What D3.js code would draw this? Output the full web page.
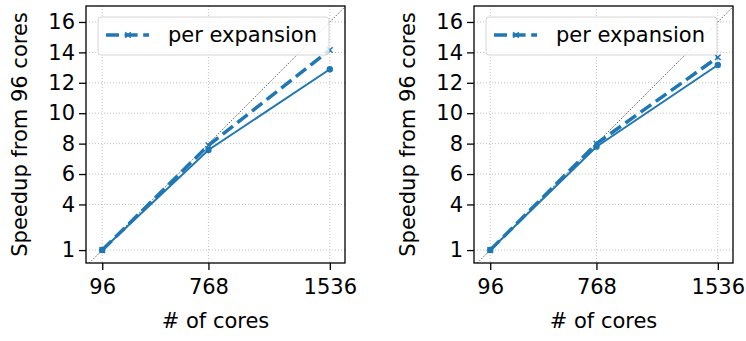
<!DOCTYPE html>
<html>
<head>
<meta charset="utf-8">
<script src="https://cdn.jsdelivr.net/npm/d3@7"></script>
<style>
body { margin: 0; background: #fff; }
svg { font-family: "DejaVu Sans", sans-serif; }
</style>
</head>
<body>
<div id="graphicContainer"></div>
<script>

// cores used in the runs
var cores = [96, 768, 1536]

// left panel
var leftSolid = [1, 7.58, 12.89]
var leftDashed = [1, 7.89, 14.16]

// right panel
var rightSolid = [1, 7.8, 13.17]
var rightDashed = [1, 8.0, 13.68]

var yTicks = [1, 4, 6, 8, 10, 12, 14, 16]
var xTicks = [96, 768, 1536]
var legendLabel = "per expansion"

var blue = "#1f77b4"
var font_size = 21

var width = 746, height = 341
var panelW = 259, panelH = 257, panelTop = 6
var panelLefts = [86, 474]

var svg = d3.select("#graphicContainer").append("svg")
	.attr("width", width)
	.attr("height", height)

var x = d3.scaleLinear().domain([-6.7, 1632]).range([0, panelW])
var y = d3.scaleLinear().domain([0.15, 17.05]).range([panelH, 0])

function drawPanel(i, solid, dashed) {

	var g = svg.append("g").attr("transform", "translate(" + panelLefts[i] + "," + panelTop + ")")

	g.append("clipPath").attr("id", "clip" + i)
		.append("rect").attr("width", panelW).attr("height", panelH)

	// grid
	g.selectAll(".gy").data(yTicks).enter().append("line")
		.attr("x1", 0).attr("x2", panelW)
		.attr("y1", d => y(d)).attr("y2", d => y(d))
		.attr("stroke", "#b0b0b0").attr("stroke-width", 0.8)
		.attr("stroke-dasharray", "1,2")

	g.selectAll(".gx").data(xTicks).enter().append("line")
		.attr("y1", 0).attr("y2", panelH)
		.attr("x1", d => x(d)).attr("x2", d => x(d))
		.attr("stroke", "#b0b0b0").attr("stroke-width", 0.8)
		.attr("stroke-dasharray", "1,2")

	var plot = g.append("g").attr("clip-path", "url(#clip" + i + ")")

	// ideal speedup
	var xd = x.domain()
	plot.append("line")
		.attr("x1", x(xd[0])).attr("y1", y(xd[0] / 96))
		.attr("x2", x(xd[1])).attr("y2", y(xd[1] / 96))
		.attr("stroke", "#000").attr("stroke-width", 0.8)
		.attr("stroke-dasharray", "1,1.6")

	var line = d3.line().x((d, j) => x(cores[j])).y(d => y(d))

	plot.append("path").datum(solid)
		.attr("d", line)
		.attr("fill", "none").attr("stroke", blue).attr("stroke-width", 2)

	plot.selectAll(".dot").data(solid).enter().append("circle")
		.attr("cx", (d, j) => x(cores[j])).attr("cy", d => y(d))
		.attr("r", 3.2).attr("fill", blue)

	plot.append("path").datum(dashed)
		.attr("d", line)
		.attr("fill", "none").attr("stroke", blue).attr("stroke-width", 3.5)
		.attr("stroke-dasharray", "13,5.6")

	var cross = d3.symbol().type(d3.symbolX).size(22)
	plot.selectAll(".xm").data(dashed).enter().append("path")
		.attr("d", cross)
		.attr("transform", (d, j) => "translate(" + x(cores[j]) + "," + y(d) + ")")
		.attr("fill", "none").attr("stroke", blue).attr("stroke-width", 1.5)

	// axes
	var yAxis = d3.axisLeft(y).tickValues(yTicks).tickSize(7).tickPadding(4)
	var ya = g.append("g").call(yAxis)
	var xAxis = d3.axisBottom(x).tickValues(xTicks).tickFormat(d3.format("d"))
		.tickSize(7).tickPadding(9)
	var xa = g.append("g").attr("transform", "translate(0," + panelH + ")").call(xAxis)

	;[ya, xa].forEach(function (a) {
		a.select(".domain").remove()
		a.selectAll("line").attr("stroke", "#000").attr("stroke-width", 1.3)
		a.selectAll("text").attr("font-size", font_size).attr("fill", "#000")
			.attr("font-family", "DejaVu Sans")
	})

	g.append("rect").attr("width", panelW).attr("height", panelH)
		.attr("fill", "none").attr("stroke", "#000").attr("stroke-width", 1.3)

	// legend
	var lg = g.append("g").attr("transform", "translate(12,11)")
	lg.append("rect").attr("width", 231).attr("height", 38).attr("rx", 3)
		.attr("fill", "#fff").attr("fill-opacity", 0.8)
		.attr("stroke", "#d6d6d6").attr("stroke-width", 1)
	lg.append("line").attr("x1", 8).attr("x2", 51).attr("y1", 18).attr("y2", 18)
		.attr("stroke", blue).attr("stroke-width", 3.5).attr("stroke-dasharray", "13,5.6")
	lg.append("path").attr("d", cross).attr("transform", "translate(30,18)")
		.attr("fill", "none").attr("stroke", blue).attr("stroke-width", 1.5)
	lg.append("text").attr("x", 70).attr("y", 25)
		.attr("font-size", font_size).text(legendLabel)

	g.append("text")
		.attr("transform", "translate(" + (-59) + "," + (panelH / 2) + ")rotate(-90)")
		.attr("text-anchor", "middle")
		.attr("font-size", font_size)
		.text("Speedup from 96 cores")

	g.append("text")
		.attr("x", panelW / 2).attr("y", 322)
		.attr("text-anchor", "middle")
		.attr("font-size", font_size)
		.text("# of cores")
}

drawPanel(0, leftSolid, leftDashed)
drawPanel(1, rightSolid, rightDashed)

</script>
</body>
</html>
